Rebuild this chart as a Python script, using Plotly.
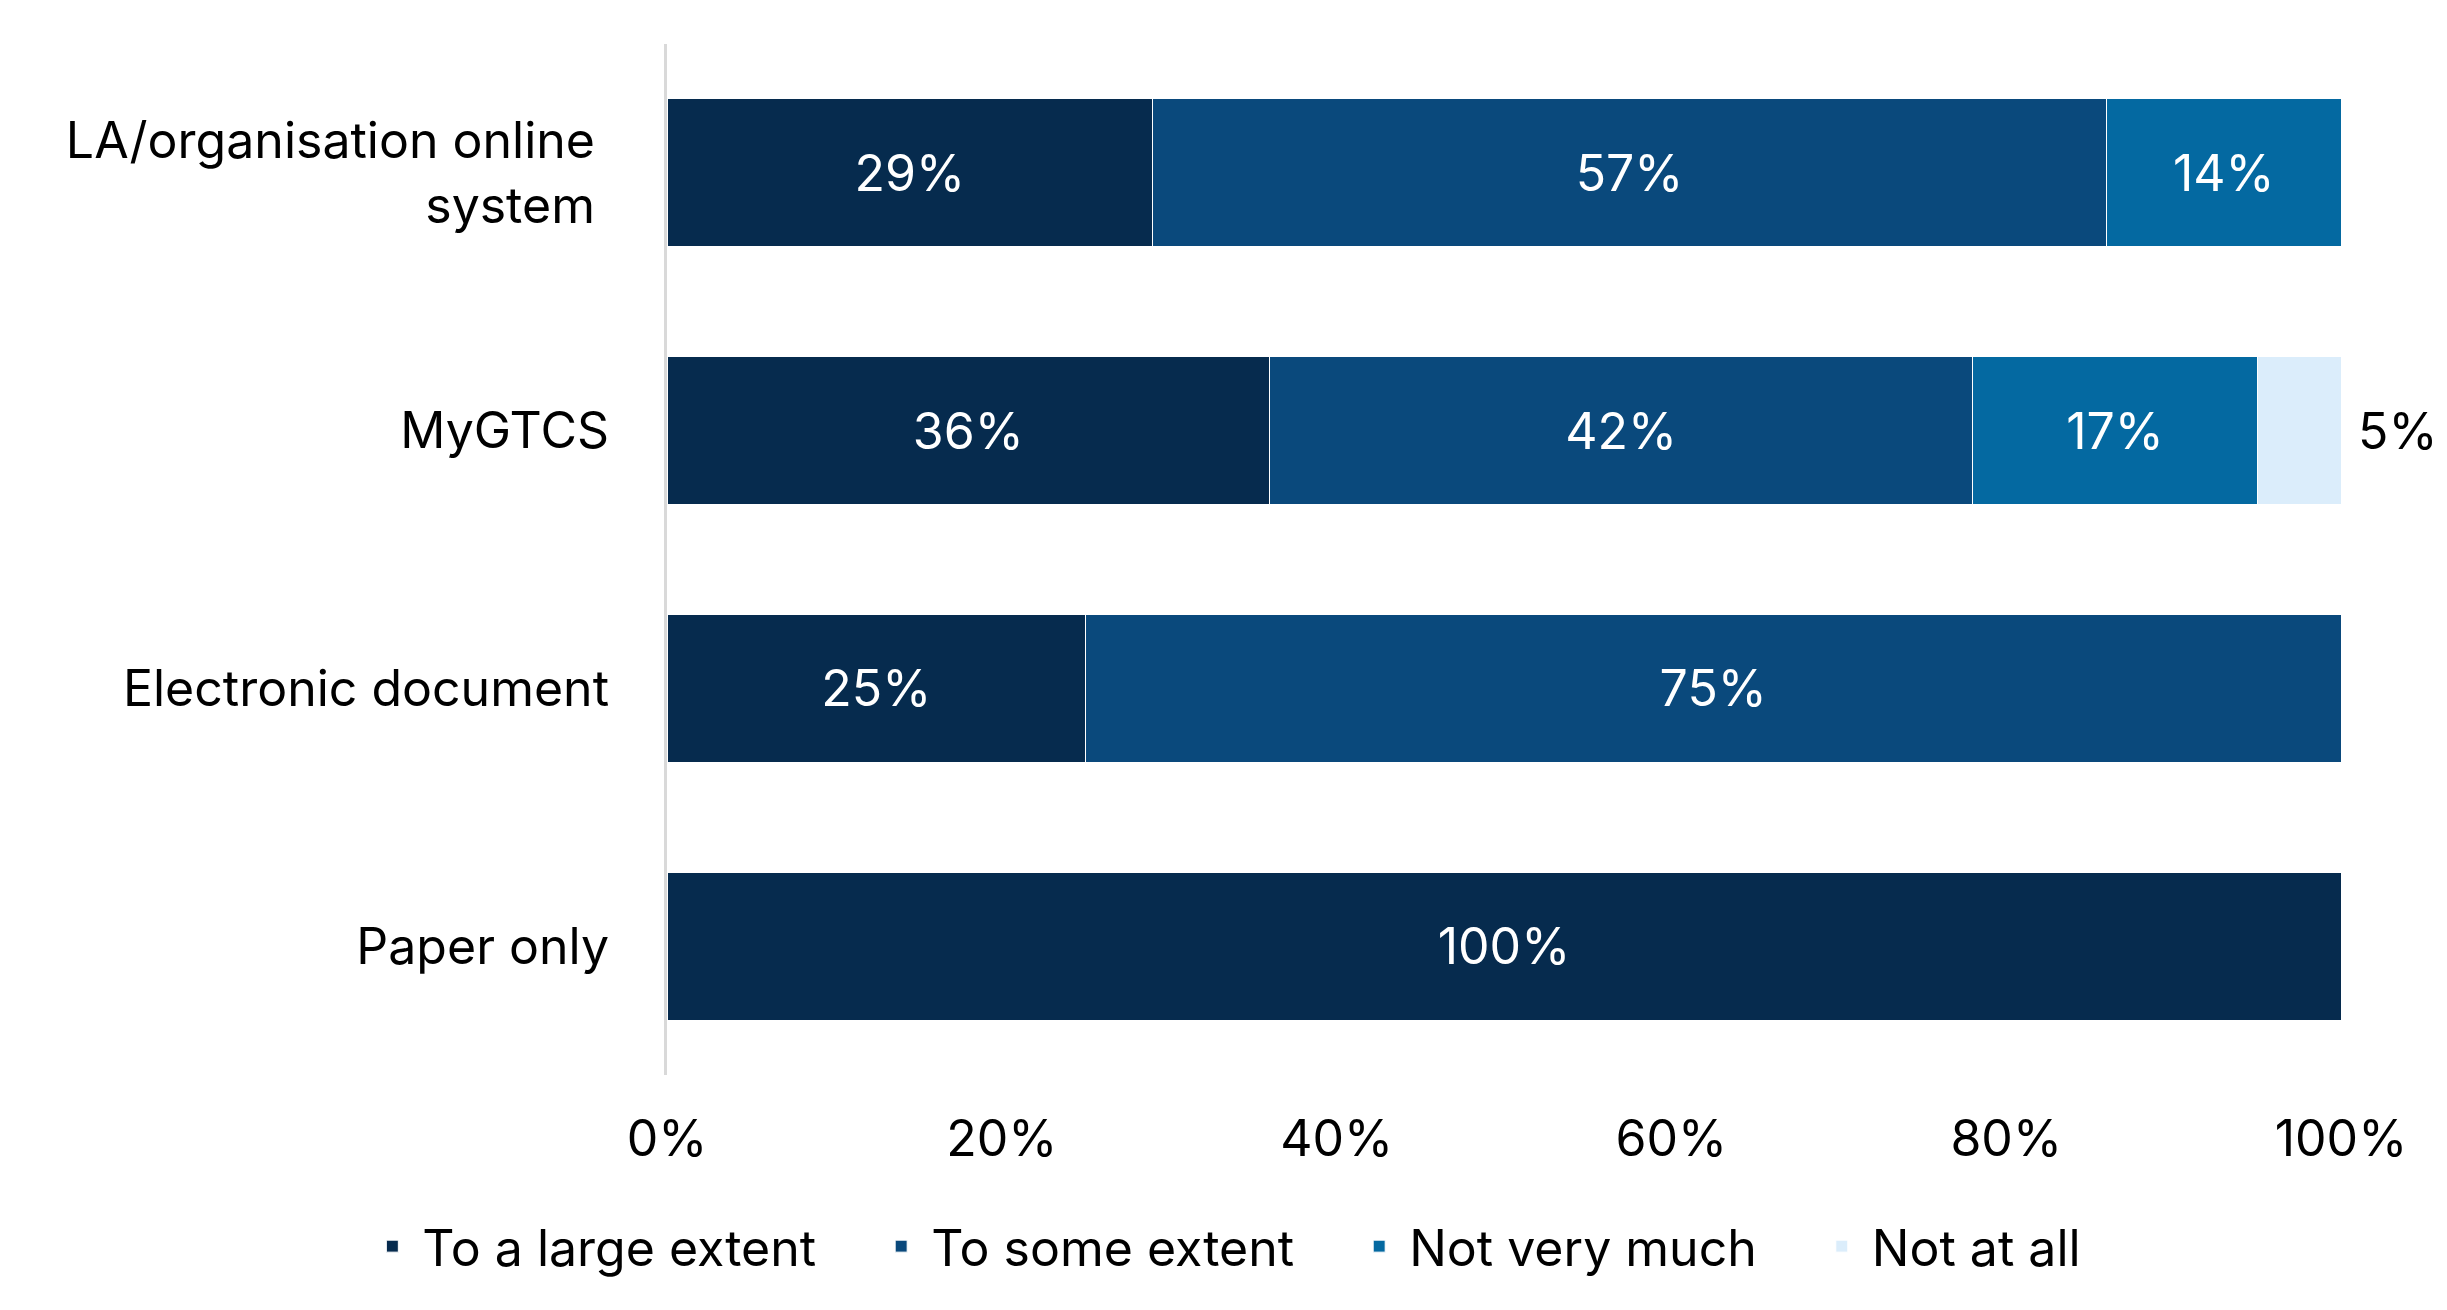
import plotly.graph_objects as go

# categories top to bottom
categories = ["LA/organisation online\u00a0<br>system\u00a0", "MyGTCS", "Electronic document", "Paper only"]

large_extent = [29, 36, 25, 100]
some_extent = [57, 42, 75, None]
not_very_much = [14, 17, None, None]
not_at_all = [None, 5, None, None]

series_names = ["To a large extent", "To some extent", "Not very much", "Not at all"]
colors = ["#062B4E", "#0A497C", "#0469A1", "#DBEDFB"]

font_family = "Inter, Roboto, sans-serif"
fsize = 50
pad = "\u2002\u2002"  # extra room between legend items

fig = go.Figure()
for i, (name, vals, col) in enumerate(zip(series_names,
                                          [large_extent, some_extent, not_very_much, not_at_all],
                                          colors)):
    light = i == 3
    fig.add_trace(go.Bar(
        y=categories,
        x=vals,
        name=name + ("" if light else pad),
        orientation="h",
        marker=dict(color=col, line=dict(color="white", width=1)),
        text=[("\u00a0" if light else "") + f"{v}%" if v else "" for v in vals],
        textposition="outside" if light else "inside",
        insidetextanchor="middle",
        textangle=0,
        textfont=dict(color="black" if light else "white", size=fsize, family=font_family),
        constraintext="none",
        cliponaxis=False,
        hovertemplate=name + ": %{x}%<extra></extra>",
    ))

fig.update_layout(
    barmode="stack",
    bargap=0.426,
    width=2447,
    height=1310,
    margin=dict(l=659, r=114, t=36, b=243, autoexpand=False),
    paper_bgcolor="white",
    plot_bgcolor="white",
    font=dict(family=font_family, size=fsize, color="black"),
    legend=dict(
        orientation="h",
        xref="paper",
        x=-0.182,
        xanchor="left",
        yref="paper",
        y=-0.166,
        yanchor="middle",
        font=dict(size=fsize, family=font_family),
        itemwidth=50,
        traceorder="normal",
    ),
    showlegend=True,
)

fig.update_xaxes(
    range=[0, 100],
    tickvals=[0, 20, 40, 60, 80, 100],
    ticktext=["0%", "20%", "40%", "60%", "80%", "100%"],
    showgrid=False,
    zeroline=False,
    showline=False,
    ticks="",
    tickangle=0,
    ticklabelstandoff=30,
    tickfont=dict(size=fsize),
)

fig.update_yaxes(
    autorange="reversed",
    showgrid=False,
    zeroline=False,
    showline=True,
    linecolor="#D9D9D9",
    linewidth=3,
    ticks="",
    ticklabelstandoff=45,
    tickfont=dict(size=fsize),
)

fig.write_html("out.html")
